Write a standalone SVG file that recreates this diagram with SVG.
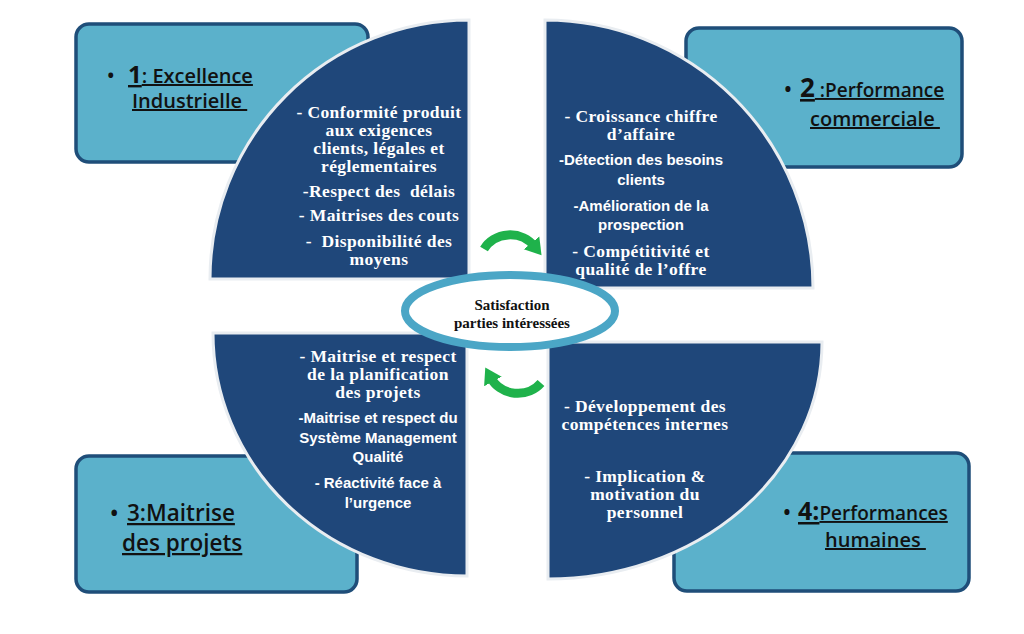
<svg xmlns="http://www.w3.org/2000/svg" width="1024" height="634" viewBox="0 0 1024 634">
<style>
.box{fill:#5bb1cb;stroke:#1f4e79;stroke-width:3.5}
.quad{fill:#1f477a;stroke:#e9edf1;stroke-width:3}
.bt{font-family:"Open Sans",sans-serif;font-weight:600;fill:#111;white-space:pre}
.ul{text-decoration:underline}
.sr{font-family:"Liberation Serif",serif;font-weight:bold;font-size:17.5px;letter-spacing:0.4px;fill:#fff;text-anchor:middle;white-space:pre}
.ss{font-family:"Liberation Sans",sans-serif;font-weight:bold;font-size:15px;fill:#fff;text-anchor:middle;white-space:pre}
.ct{font-family:"Liberation Serif",serif;font-weight:bold;font-size:15px;fill:#111;text-anchor:middle}
.arr{fill:none;stroke:#1fb24b;stroke-width:9}
</style>
<defs>
<marker id="ah" markerUnits="userSpaceOnUse" markerWidth="24" markerHeight="24" refX="4" refY="12" orient="auto">
<path d="M0,2 L16,12 L0,22 Z" fill="#1fb24b"/>
</marker>
</defs>
<rect width="1024" height="634" fill="#fff"/>

<g id="box1">
<rect class="box" x="76" y="24" width="292" height="138" rx="13"/>
<text class="bt" y="83" font-size="20"><tspan x="107">•</tspan><tspan x="128" class="ul" font-size="24" font-weight="bold">1</tspan><tspan class="ul">: Excellence</tspan></text>
<text class="bt ul" x="132" y="108" font-size="20">Industrielle </text>
</g>
<g id="box2">
<rect class="box" x="686" y="28" width="276" height="139" rx="13"/>
<text class="bt" y="97" font-size="19"><tspan x="784" font-size="21">•</tspan><tspan x="800" class="ul" font-size="26" font-weight="bold">2</tspan><tspan class="ul"> :Performance</tspan></text>
<text class="bt ul" x="810" y="126" font-size="20">commerciale </text>
</g>
<g id="box3">
<rect class="box" x="76" y="456" width="281" height="136" rx="13"/>
<text class="bt" y="521" font-size="22.5"><tspan x="110">•</tspan><tspan x="127" class="ul">3:Maitrise</tspan></text>
<text class="bt ul" x="122" y="551" font-size="22.5">des projets</text>
</g>
<g id="box4">
<rect class="box" x="674" y="453" width="295" height="138" rx="13"/>
<text class="bt" y="520" font-size="19"><tspan x="783" font-size="21">•</tspan><tspan x="798" class="ul" font-size="25" font-weight="bold">4:</tspan><tspan class="ul">Performances</tspan></text>
<text class="bt ul" x="825" y="547" font-size="20">humaines </text>
</g>

<g id="q1">
<path class="quad" d="M469 20 L469 279 L210 279 A259 259 0 0 1 469 20 Z"/>
<text class="sr" x="379" y="118">- Conformité produit</text>
<text class="sr" x="379" y="136">aux exigences</text>
<text class="sr" x="379" y="154">clients, légales et</text>
<text class="sr" x="379" y="172">réglementaires</text>
<text class="sr" x="379" y="197">-Respect des  délais</text>
<text class="sr" x="379" y="221">- Maitrises des couts</text>
<text class="sr" x="379" y="247">-  Disponibilité des</text>
<text class="sr" x="379" y="265">moyens</text>
</g>
<g id="q2">
<path class="quad" d="M545 20 L545 288 L813 288 A268 268 0 0 0 545 20 Z"/>
<text class="sr" x="641" y="122">- Croissance chiffre</text>
<text class="sr" x="641" y="140">d’affaire</text>
<text class="ss" x="641" y="165">-Détection des besoins</text>
<text class="ss" x="641" y="185">clients</text>
<text class="ss" x="641" y="211">-Amélioration de la</text>
<text class="ss" x="641" y="230">prospection</text>
<text class="sr" x="641" y="257">- Compétitivité et</text>
<text class="sr" x="641" y="275">qualité de l’offre</text>
</g>
<g id="q3">
<path class="quad" d="M213 333 L467 333 L467 576 A254 243 0 0 1 213 333 Z"/>
<text class="sr" x="378" y="362">- Maitrise et respect</text>
<text class="sr" x="378" y="380">de la planification</text>
<text class="sr" x="378" y="398">des projets</text>
<text class="ss" x="378" y="423">-Maitrise et respect du</text>
<text class="ss" x="378" y="443">Système Management</text>
<text class="ss" x="378" y="462">Qualité</text>
<text class="ss" x="378" y="488">- Réactivité face à</text>
<text class="ss" x="378" y="508">l’urgence</text>
</g>
<g id="q4">
<path class="quad" d="M548 342 L822 342 A274 237 0 0 1 548 579 Z"/>
<text class="sr" x="645" y="412">- Développement des</text>
<text class="sr" x="645" y="430">compétences internes</text>
<text class="sr" x="645" y="482">- Implication &amp;</text>
<text class="sr" x="645" y="500">motivation du</text>
<text class="sr" x="645" y="518">personnel</text>
</g>

<g id="center">
<ellipse cx="510" cy="311" rx="105" ry="36" fill="#fff" stroke="#4ba6c6" stroke-width="8"/>
<text class="ct" x="512" y="310">Satisfaction</text>
<text class="ct" x="512" y="328">parties intéressées</text>
</g>

<g id="connectors">
<path class="arr" d="M484 249 A30 28 0 0 1 534 246" marker-end="url(#ah)"/>
<path class="arr" d="M541 383 A30 28 0 0 1 491 378" marker-end="url(#ah)"/>
</g>
</svg>
